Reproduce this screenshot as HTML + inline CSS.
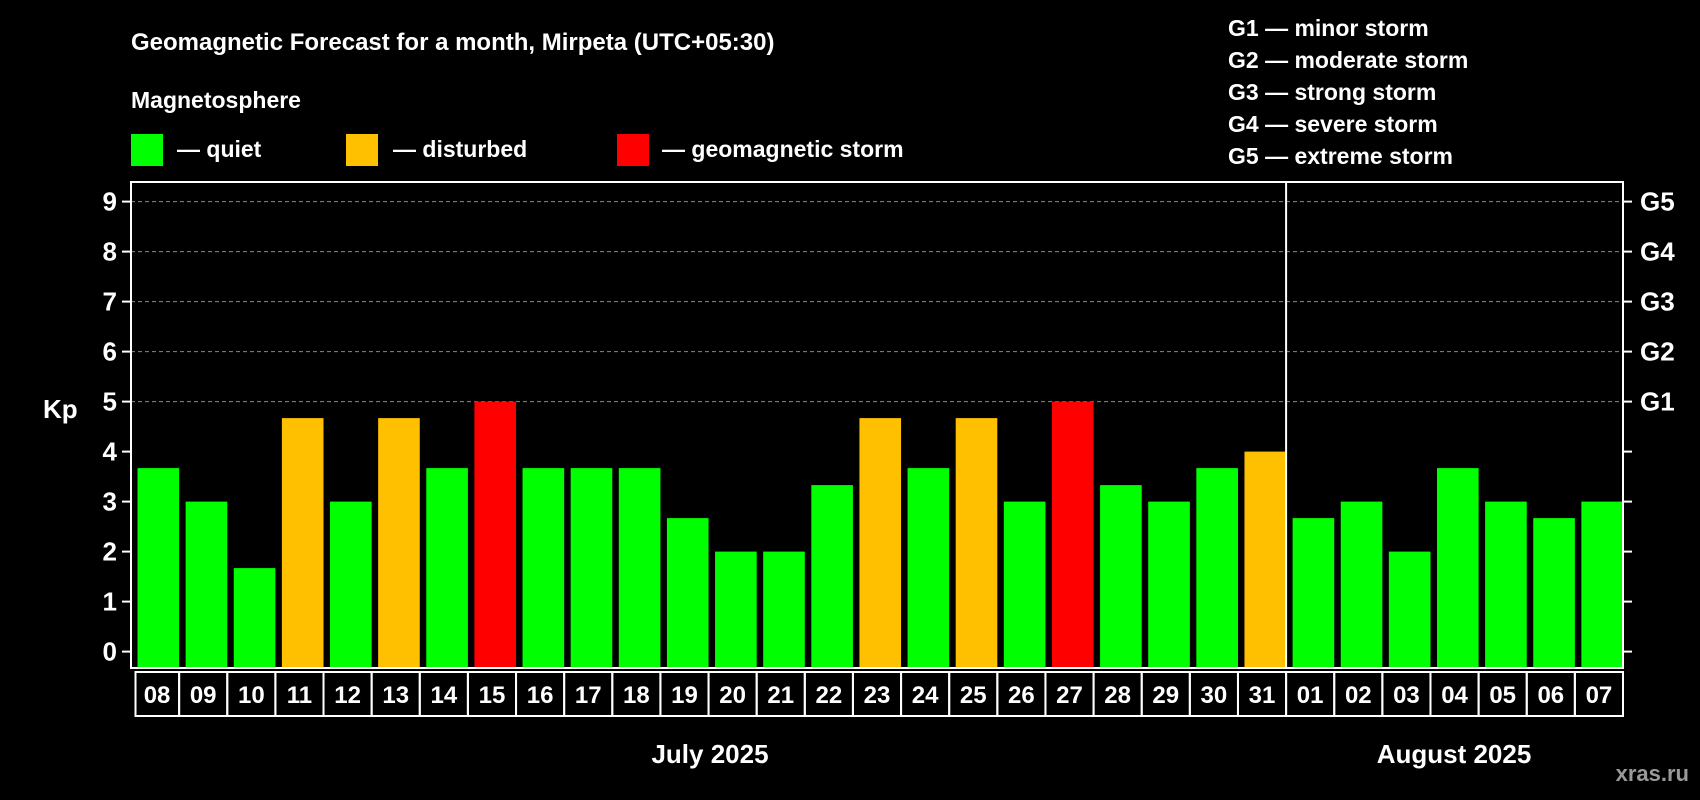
<!DOCTYPE html>
<html><head><meta charset="utf-8"><style>
html,body{margin:0;padding:0;background:#000;width:1700px;height:800px;overflow:hidden}
svg text{font-family:"Liberation Sans",Arial,sans-serif;font-weight:bold;fill:#fff}
</style></head><body>
<svg id="chart" width="1700" height="800" viewBox="0 0 1700 800">
<text x="131" y="50" font-size="24">Geomagnetic Forecast for a month, Mirpeta (UTC+05:30)</text>
<text x="131" y="108" font-size="23">Magnetosphere</text>
<rect x="131" y="134" width="32" height="32" fill="#00ff00"/>
<text x="177" y="157" font-size="23">— quiet</text>
<rect x="346" y="134" width="32" height="32" fill="#ffc000"/>
<text x="393" y="157" font-size="23">— disturbed</text>
<rect x="617" y="134" width="32" height="32" fill="#ff0000"/>
<text x="662" y="157" font-size="23">— geomagnetic storm</text>
<g font-size="23">
<text x="1228" y="36">G1 — minor storm</text>
<text x="1228" y="68">G2 — moderate storm</text>
<text x="1228" y="100">G3 — strong storm</text>
<text x="1228" y="132">G4 — severe storm</text>
<text x="1228" y="164">G5 — extreme storm</text>
</g>
<text x="43" y="418" font-size="26">Kp</text>
<text x="710" y="763" font-size="26" text-anchor="middle">July 2025</text>
<text x="1454" y="763" font-size="26" text-anchor="middle">August 2025</text>
<text x="1689" y="781" font-size="22" text-anchor="end" style="fill:#9a9a9a">xras.ru</text>
<g id="plot"></g>
</svg>
<script>
const days=["08","09","10","11","12","13","14","15","16","17","18","19","20","21","22","23","24","25","26","27","28","29","30","31","01","02","03","04","05","06","07"];
const kp=[3.67,3,1.67,4.67,3,4.67,3.67,5,3.67,3.67,3.67,2.67,2,2,3.33,4.67,3.67,4.67,3,5,3.33,3,3.67,4,2.67,3,2,3.67,3,2.67,3];
const yTicks=[0,1,2,3,4,5,6,7,8,9];
const gLabels=["G1","G2","G3","G4","G5"];
const L=131,R=1623,T=182,B=668,monthBreak=24;
const band=(R-L)/days.length;
const y=v=>651.6-50*v;
const x=i=>L+i*band;
const g=document.getElementById('plot');
const NS="http://www.w3.org/2000/svg";
function mk(t,a){const e=document.createElementNS(NS,t);for(const k in a)e.setAttribute(k,a[k]);g.appendChild(e);return e;}
yTicks.forEach(v=>{
  if(v>=5){const l=mk('line',{x1:L,x2:R,y1:y(v),y2:y(v),stroke:'#888','stroke-dasharray':'4,3','stroke-width':1});
  
  }
  const t1=mk('line',{x1:L-9,x2:L,y1:y(v),y2:y(v),stroke:'#fff','stroke-width':2});
  
  
  const t2=mk('line',{x1:R,x2:R+9,y1:y(v),y2:y(v),stroke:'#fff','stroke-width':2});
  
  
  const tx=mk('text',{x:L-14,y:y(v)+9,'font-size':26,'text-anchor':'end'});tx.textContent=v;
  
  
});
gLabels.forEach((s,i)=>{
  const tx=mk('text',{x:R+17,y:y(5+i)+9,'font-size':26});tx.textContent=s;
  
  
});
kp.forEach((v,i)=>{
  const c=v>=5?'#ff0000':(v>=4?'#ffc000':'#00ff00');
  const r=mk('rect',{x:x(i)+6.5,y:y(v),width:band-6.5,height:B-y(v)-1,fill:c});
  
  
  const bx=mk('rect',{x:x(i)+(i==0?4.5:0),y:672,width:band-(i==0?4.5:0),height:44,fill:'none',stroke:'#fff','stroke-width':2});
  
  
  const tx=mk('text',{x:x(i)+band/2+(i==0?2:0),y:703,'font-size':24,'text-anchor':'middle'});tx.textContent=days[i];
  
  
});
const fr=mk('rect',{x:L,y:T,width:R-L,height:B-T,fill:'none',stroke:'#fff','stroke-width':2});


const dv=mk('line',{x1:x(monthBreak),x2:x(monthBreak),y1:T,y2:B,stroke:'#fff','stroke-width':2});


</script>
</body></html>
